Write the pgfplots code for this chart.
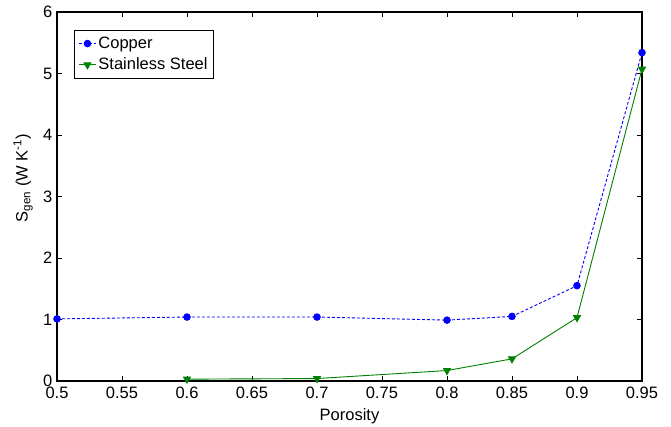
\documentclass[border=0pt]{standalone}
\usepackage{pgfplots}
\pgfplotsset{compat=1.18}
\usepackage{fontspec}
\setmainfont{Liberation Sans}
\definecolor{mgreen}{rgb}{0,0.5,0}
\begin{document}
\fontsize{16.5}{19}\selectfont
\begin{tikzpicture}
\begin{axis}[
  scale only axis,
  width=585pt, height=369pt,
  xmin=0.5, xmax=0.95, ymin=0, ymax=6,
  xtick={0.5,0.55,...,0.951},
  ytick={0,1,...,6},
  xticklabel style={/pgf/number format/fixed,/pgf/number format/precision=2},
  /pgf/number format/assume math mode=true,
  tick align=inside,
  major tick length=5pt,
  axis line style={line width=1.6pt},
  tick style={black, line width=0.7pt},
  xlabel={Porosity},
  ylabel={S\textsubscript{gen} (W K\textsuperscript{-1})},
  xlabel style={at={(axis description cs:0.5,-0.095)}, anchor=center},
  ylabel style={at={(axis description cs:-0.058,0.55)}, anchor=center},
  yticklabel style={xshift=1pt},
  legend style={at={(axis description cs:0.029,0.951)}, anchor=north west, draw=black, line width=1pt, font=\fontsize{16.5}{19}\selectfont, row sep=3pt, inner sep=4pt},
  legend cell align=left,
]
\coordinate (sw) at (rel axis cs:0,0);
\coordinate (ne) at (rel axis cs:1,1);
\addplot[blue, densely dashed, line width=0.9pt, mark=*, mark size=3.3pt, mark options={solid, fill=blue}] coordinates {
(0.5,1.01) (0.6,1.04) (0.7,1.04) (0.8,0.99) (0.85,1.05) (0.9,1.55) (0.95,5.34)};
\addlegendentry{Copper}
\addplot[mgreen, line width=0.9pt, mark=triangle*, mark size=4pt, mark options={solid, fill=mgreen, rotate=180}] coordinates {
(0.6,0.03) (0.7,0.04) (0.8,0.17) (0.85,0.36) (0.9,1.03) (0.95,5.07)};
\addlegendentry{Stainless Steel}
\end{axis}
\pgfresetboundingbox
\path ([shift={(-57pt,-46pt)}]sw) rectangle ([shift={(29pt,12pt)}]ne);
\end{tikzpicture}
\end{document}
